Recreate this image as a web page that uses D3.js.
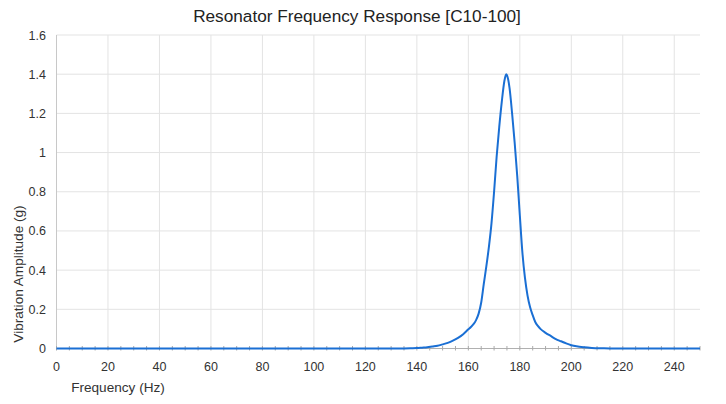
<!DOCTYPE html>
<html>
<head>
<meta charset="utf-8">
<script src="https://cdn.jsdelivr.net/npm/d3@7"></script>
<style>
  html, body { margin: 0; padding: 0; background: #fff; }
  svg { display: block; font-family: "Liberation Sans", Arial, Helvetica, sans-serif; }
</style>
</head>
<body>
<svg id="chart" width="726" height="404"></svg>
<script>
// ---- data ----
const frequencies = [0, 10, 20, 30, 40, 50, 60, 70, 80, 90, 100, 110, 120, 130, 135, 138,
  140, 142, 144, 146, 148, 150, 152, 154, 156, 158, 160, 161, 162, 163, 164, 165, 166, 167, 168, 169, 170,
  171, 172, 173, 174, 174.7, 175, 176, 177, 178, 179, 180, 181, 182, 183, 184, 185, 186, 187, 188,
  190, 192, 194, 196, 198, 200, 202, 205, 208, 212, 215, 220, 230, 240, 250];
const amplitudes = [0, 0, 0, 0, 0, 0, 0, 0, 0, 0, 0, 0, 0, 0, 0, 0.001,
  0.002, 0.004, 0.006, 0.010, 0.014, 0.021, 0.029, 0.040, 0.054, 0.073, 0.098, 0.110, 0.124, 0.145, 0.178, 0.235, 0.33, 0.42, 0.52, 0.64, 0.80,
  0.98, 1.13, 1.26, 1.365, 1.40, 1.395, 1.33, 1.20, 1.05, 0.88, 0.68, 0.49, 0.36, 0.27, 0.21, 0.17, 0.135, 0.115, 0.10,
  0.080, 0.064, 0.048, 0.037, 0.026, 0.017, 0.011, 0.006, 0.003, 0.001, 0, 0, 0, 0, 0];
const xTickValues = [0, 20, 40, 60, 80, 100, 120, 140, 160, 180, 200, 220, 240];
const xMinorTickValues = d3.range(0, 251, 5);
const yTickValues = [0, 0.2, 0.4, 0.6, 0.8, 1, 1.2, 1.4, 1.6];
const yTickLabels = ["0", "0.2", "0.4", "0.6", "0.8", "1", "1.2", "1.4", "1.6"];
const titleText = "Resonator Frequency Response [C10-100]";
const xLabelText = "Frequency (Hz)";
const yLabelText = "Vibration Amplitude (g)";

// ---- layout ----
const W = 726, H = 404;
const margin = { left: 56.5, right: 26, top: 35, bottom: 55.5 };
const svg = d3.select("#chart");
const x = d3.scaleLinear().domain([0, 250]).range([margin.left, W - margin.right]);
const y = d3.scaleLinear().domain([0, 1.6]).range([H - margin.bottom, margin.top]);

// gridlines
const grid = svg.append("g");
grid.selectAll("line.vx").data(xTickValues.filter(d => d > 0)).join("line")
  .attr("x1", d => x(d)).attr("x2", d => x(d))
  .attr("y1", y(1.6)).attr("y2", y(0))
  .attr("stroke", "#e3e3e3").attr("stroke-width", 1);
grid.selectAll("line.hy").data(yTickValues.filter(d => d > 0)).join("line")
  .attr("x1", x(0)).attr("x2", x(250))
  .attr("y1", d => y(d)).attr("y2", d => y(d))
  .attr("stroke", "#e3e3e3").attr("stroke-width", 1);

// axis lines
svg.append("line").attr("x1", x(0)).attr("x2", x(0)).attr("y1", y(1.6)).attr("y2", y(0))
  .attr("stroke", "#c8c8c8").attr("stroke-width", 1);
svg.append("line").attr("x1", x(0)).attr("x2", x(250)).attr("y1", y(0)).attr("y2", y(0))
  .attr("stroke", "#b0b0b0").attr("stroke-width", 1);

// minor ticks
svg.append("g").selectAll("line").data(xMinorTickValues).join("line")
  .attr("x1", d => x(d)).attr("x2", d => x(d))
  .attr("y1", y(0) - 2.5).attr("y2", y(0) + 2)
  .attr("stroke", "#aaaaaa").attr("stroke-width", 1);

// tick labels
svg.append("g").selectAll("text").data(xTickValues).join("text")
  .attr("x", d => x(d)).attr("y", 370.5)
  .attr("text-anchor", "middle").attr("font-size", 12.5).attr("fill", "#333")
  .text(d => d);
svg.append("g").selectAll("text").data(yTickValues).join("text")
  .attr("x", 46).attr("y", d => y(d) + 4.5)
  .attr("text-anchor", "end").attr("font-size", 12.5).attr("fill", "#333")
  .text((d, i) => yTickLabels[i]);

// line
const data = frequencies.map((f, i) => ({ f, a: amplitudes[i] }));
const line = d3.line().x(d => x(d.f)).y(d => y(d.a)).curve(d3.curveMonotoneX);
svg.append("path").datum(data)
  .attr("d", line).attr("fill", "none")
  .attr("stroke", "#1a6fd4").attr("stroke-width", 2).attr("stroke-linejoin", "round");

// title and labels
svg.append("text").attr("x", 357).attr("y", 21.5).attr("text-anchor", "middle")
  .attr("font-size", 17.2).attr("fill", "#222").text(titleText);
svg.append("text").attr("x", 118).attr("y", 392).attr("text-anchor", "middle")
  .attr("font-size", 13.6).attr("fill", "#333").text(xLabelText);
svg.append("text").attr("transform", "translate(22.5,274) rotate(-90)").attr("text-anchor", "middle")
  .attr("font-size", 13.6).attr("fill", "#333").text(yLabelText);
</script>
</body>
</html>
